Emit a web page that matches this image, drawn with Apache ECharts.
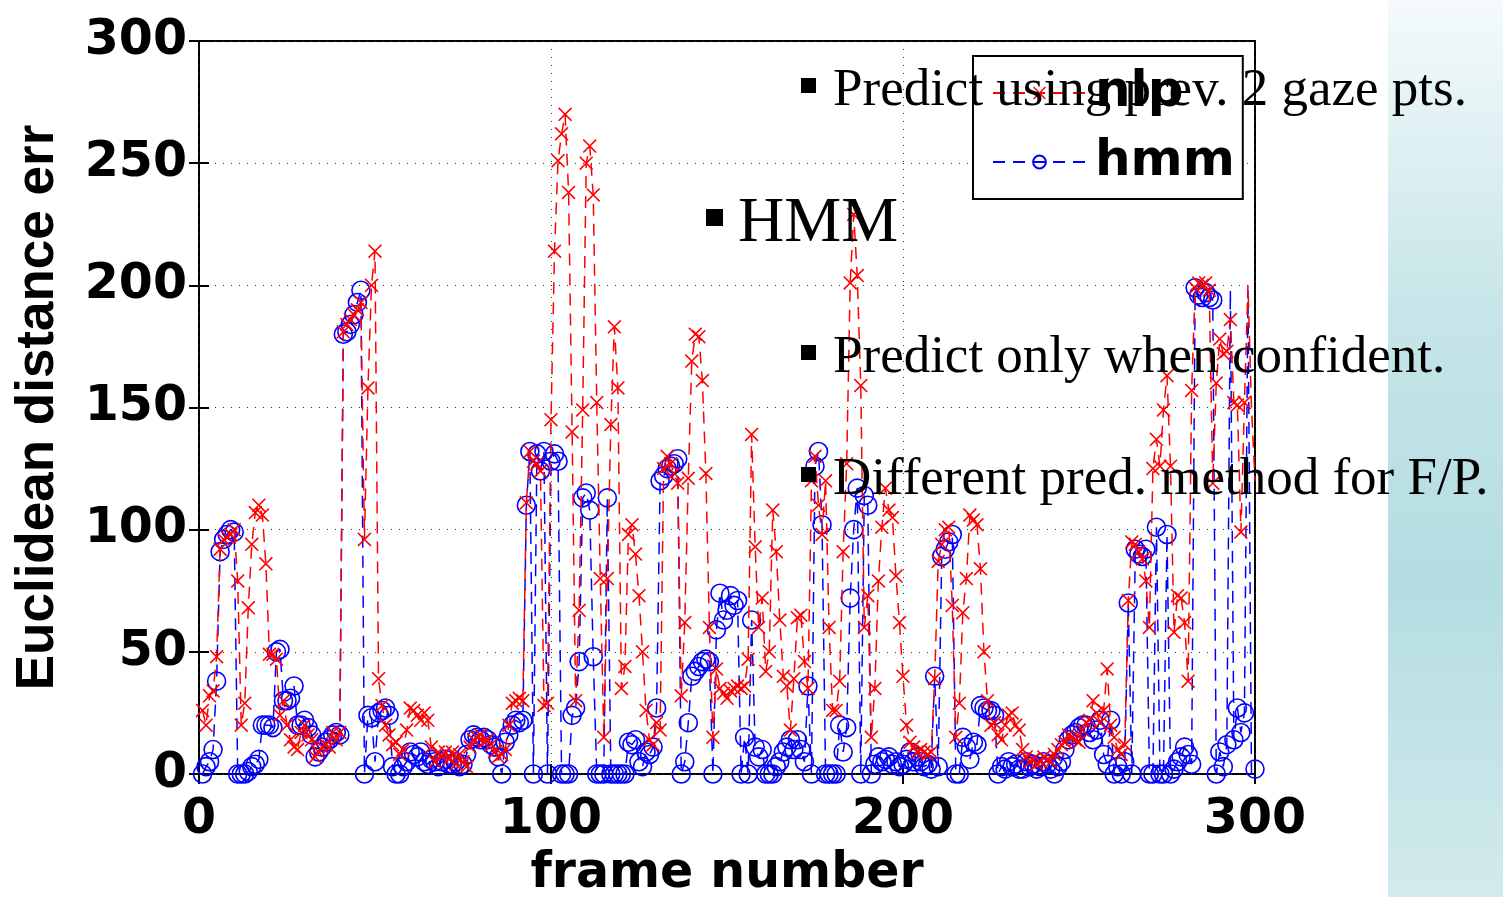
<!DOCTYPE html>
<html>
<head>
<meta charset="utf-8">
<script src="https://cdn.jsdelivr.net/npm/echarts@6/dist/echarts.min.js"></script>
<style>
  html, body { margin: 0; padding: 0; background: #fff; }
  #chart { width: 1503px; height: 897px; }
</style>
</head>
<body>
<div id="chart"></div>
<script>
// error per frame (frames 1..300)
var nlp = [
  26, 20, 32, 34, 48, 92, 96, 97, 98, 100,
  79, 20, 29, 68, 94, 107, 110, 106, 86, 49,
  49, 47, 24, 30, 20, 14, 11, 10, 17, 20,
  16, 14, 7, 9, 11, 12, 11, 17, 14, 17,
  181, 184, 186, 188, 190, 193, 96, 158, 200, 214,
  39, 28, 20, 16, 12, 13, 8, 10, 18, 27,
  26, 24, 22, 25, 22, 11, 5, 9, 7, 9,
  6, 9, 4, 8, 5, 3, 11, 14, 15, 16,
  13, 14, 12, 9, 7, 8, 10, 20, 29, 30,
  31, 30, 111, 132, 128, 127, 124, 28, 29, 145,
  214, 251, 262, 270, 238, 140, 30, 67, 149, 250,
  257, 237, 152, 80, 15, 80, 143, 183, 158, 35,
  44, 98, 102, 90, 73, 50, 26, 14, 12, 21,
  18, 125, 130, 127, 123, 119, 32, 62, 121, 169,
  180, 179, 161, 123, 60, 15, 43, 35, 33, 31,
  34, 35, 36, 35, 36, 47, 139, 93, 60, 72,
  42, 50, 108, 91, 63, 40, 36, 18, 39, 64,
  65, 46, 35, 120, 130, 110, 98, 120, 60, 26,
  26, 38, 91, 127, 201, 229, 204, 159, 60, 73,
  15, 35, 79, 101, 117, 108, 105, 81, 62, 40,
  20, 13, 11, 9, 10, 9, 8, 9, 39, 87,
  94, 100, 101, 69, 15, 29, 66, 80, 106, 104,
  102, 84, 50, 30, 20, 21, 16, 14, 20, 24,
  25, 20, 18, 10, 7, 5, 6, 4, 5, 7,
  6, 5, 8, 10, 12, 13, 16, 15, 14, 13,
  18, 21, 22, 30, 25, 21, 26, 43, 20, 15,
  10, 8, 12, 71, 95, 94, 91, 88, 79, 60,
  125, 137, 126, 149, 163, 126, 58, 73, 72, 62,
  38, 157, 199, 201, 200, 201, 198, 119, 160, 178,
  172, 173, 186, 152, 151, 99, 152, 200, 150, 120
];

var hmm = [
  0, 3, 5, 10, 38, 91, 96, 98, 100, 99,
  0, 0, 0, 1, 3, 4, 6, 20, 20, 20,
  19, 50, 51, 30, 30, 31, 36, 20, 20, 22,
  19, 16, 7, 9, 11, 13, 14, 16, 17, 16,
  180, 181, 184, 188, 193, 198, 0, 24, 23, 5,
  25, 26, 27, 24, 3, 0, 0, 3, 5, 9,
  8, 7, 9, 5, 4, 6, 5, 3, 5, 6,
  4, 4, 5, 3, 4, 8, 14, 16, 15, 14,
  15, 14, 12, 11, 7, 0, 13, 16, 20, 22,
  21, 22, 110, 132, 0, 131, 124, 132, 0, 128,
  131, 128, 0, 0, 0, 24, 27, 46, 113, 115,
  108, 48, 0, 0, 0, 113, 0, 0, 0, 0,
  0, 13, 12, 14, 5, 3, 9, 8, 11, 27,
  120, 122, 125, 126, 127, 129, 0, 5, 21, 40,
  42, 44, 46, 47, 46, 0, 59, 74, 63, 67,
  73, 69, 71, 0, 15, 0, 63, 11, 7, 10,
  0, 0, 0, 3, 5, 9, 11, 14, 10, 14,
  10, 5, 36, 0, 126, 132, 102, 0, 0, 0,
  0, 20, 9, 19, 72, 100, 117, 0, 114, 110,
  0, 4, 7, 5, 6, 7, 4, 5, 3, 4,
  6, 9, 5, 7, 5, 3, 4, 2, 40, 3,
  89, 92, 95, 98, 0, 0, 15, 11, 6, 13,
  12, 28, 27, 26, 26, 24, 0, 3, 2, 5,
  3, 4, 2, 2, 5, 3, 4, 2, 3, 5,
  4, 2, 0, 3, 5, 10, 14, 16, 17, 19,
  20, 20, 17, 14, 18, 22, 8, 4, 22, 0,
  3, 0, 5, 70, 0, 92, 90, 89, 92, 0,
  0, 101, 0, 0, 98, 0, 2, 5, 7, 11,
  8, 4, 199, 196, 195, 197, 195, 194, 0, 9,
  3, 12, 198, 14, 27, 17, 25, 198, 0, 2
];

// frames drawn as line only (no marker in the figure)
var nlpNoMarker = [298, 299, 300];
var hmmNoMarker = [293, 298, 299];

var seriesNames = ["nlp", "hmm"];
var xTicks = [0, 100, 200, 300];
var yTicks = [0, 50, 100, 150, 200, 250, 300];

var notes = [
  "Predict using prev. 2 gaze pts.",
  "HMM",
  "Predict only when confident.",
  "Different pred. method for F/P."
];

function toPoints(values, hidden) {
  return values.map(function (v, i) {
    var f = i + 1;
    if (hidden.indexOf(f) >= 0) return { value: [f, v], symbol: "none" };
    return [f, v];
  });
}

var crossPath = "path://M0.8,0L5,4.2L9.2,0L10,0.8L5.8,5L10,9.2L9.2,10L5,5.8L0.8,10L0,9.2L4.2,5L0,0.8Z";
var sansBold = { fontFamily: "DejaVu Sans", fontWeight: "bold", color: "#000" };
var dash = [12, 8];

var chart = echarts.init(document.getElementById("chart"));

var option = {
  animation: false,
  backgroundColor: "#fff",
  grid: {
    left: 199, top: 41, width: 1056, height: 733,
    outerBoundsMode: "none", containLabel: false,
    show: true, borderColor: "#000", borderWidth: 2, backgroundColor: "#fff"
  },
  legend: {
    data: seriesNames,
    orient: "vertical",
    left: 973, top: 56,
    padding: [12, 8, 12, 19],
    itemWidth: 93, itemHeight: 16, itemGap: 19,
    backgroundColor: "#fff",
    borderColor: "#000", borderWidth: 2,
    textStyle: Object.assign({ fontSize: 50, lineHeight: 50, padding: [0, 0, 0, 4] }, sansBold)
  },
  xAxis: [
    {
      type: "value", min: xTicks[0], max: xTicks[xTicks.length - 1], interval: 100,
      name: "frame number", nameLocation: "middle", nameGap: 72,
      nameTextStyle: Object.assign({ fontSize: 49 }, sansBold),
      axisLine: { show: false },
      axisTick: { inside: true, length: 10, lineStyle: { color: "#000", width: 2 } },
      axisLabel: Object.assign({ fontSize: 49, margin: 22 }, sansBold),
      splitLine: { show: true, lineStyle: { color: "#333", type: [1, 7], width: 1 } }
    },
    {
      type: "value", position: "top", min: xTicks[0], max: xTicks[xTicks.length - 1], interval: 100,
      axisLine: { show: false },
      axisTick: { inside: true, length: 10, lineStyle: { color: "#000", width: 2 } },
      axisLabel: { show: false }, splitLine: { show: false }
    }
  ],
  yAxis: [
    {
      type: "value", min: yTicks[0], max: yTicks[yTicks.length - 1], interval: 50,
      name: "Euclidean distance err", nameLocation: "middle", nameGap: 134, nameRotate: 90,
      nameTextStyle: { fontFamily: "Liberation Sans", fontWeight: "bold", fontSize: 53, color: "#000" },
      axisLine: { show: false },
      axisTick: { inside: true, length: 10, lineStyle: { color: "#000", width: 2 } },
      axisLabel: Object.assign({ fontSize: 49, margin: 12 }, sansBold),
      splitLine: { show: true, lineStyle: { color: "#333", type: [1, 7], width: 1 } }
    },
    {
      type: "value", position: "right", min: yTicks[0], max: yTicks[yTicks.length - 1], interval: 50,
      axisLine: { show: false },
      axisTick: { inside: true, length: 10, lineStyle: { color: "#000", width: 2 } },
      axisLabel: { show: false }, splitLine: { show: false }
    }
  ],
  series: [
    {
      name: "nlp", type: "line",
      data: toPoints(nlp, nlpNoMarker),
      symbol: crossPath, symbolSize: 14, showAllSymbol: true,
      itemStyle: { color: "#ff0000" },
      lineStyle: { color: "#ff0000", width: 1.5, type: dash },
      z: 3
    },
    {
      name: "hmm", type: "line",
      data: toPoints(hmm, hmmNoMarker),
      symbol: "circle", symbolSize: 18, showAllSymbol: true,
      itemStyle: { color: "rgba(255,255,255,0)", borderColor: "#0000ff", borderWidth: 1.6 },
      lineStyle: { color: "#0000ff", width: 1.5, type: dash },
      z: 2
    }
  ],
  graphic: [
    {
      type: "rect", z: 0, silent: true,
      shape: { x: 1388, y: 0, width: 115, height: 897 },
      style: {
        fill: {
          type: "linear", x: 0, y: 0, x2: 0, y2: 1,
          colorStops: [
            { offset: 0, color: "#f4fafb" },
            { offset: 0.35, color: "#c6e5e8" },
            { offset: 0.65, color: "#b4dde1" },
            { offset: 1, color: "#d2eaed" }
          ]
        }
      }
    },
    { type: "rect", z: 100, shape: { x: 801, y: 78, width: 15, height: 15 }, style: { fill: "#000" } },
    { type: "text", z: 100, left: 833, top: 65,
      style: { text: notes[0], font: "53px 'Liberation Serif'", fill: "#000" } },
    { type: "rect", z: 100, shape: { x: 706, y: 209, width: 17, height: 17 }, style: { fill: "#000" } },
    { type: "text", z: 100, left: 738, top: 192,
      style: { text: notes[1], font: "64px 'Liberation Serif'", fill: "#000" } },
    { type: "rect", z: 100, shape: { x: 801, y: 345, width: 15, height: 15 }, style: { fill: "#000" } },
    { type: "text", z: 100, left: 833, top: 332,
      style: { text: notes[2], font: "53px 'Liberation Serif'", fill: "#000" } },
    { type: "rect", z: 100, shape: { x: 801, y: 467, width: 15, height: 15 }, style: { fill: "#000" } },
    { type: "text", z: 100, left: 833, top: 454,
      style: { text: notes[3], font: "53px 'Liberation Serif'", fill: "#000" } }
  ]
};

chart.setOption(option);
</script>
</body>
</html>
